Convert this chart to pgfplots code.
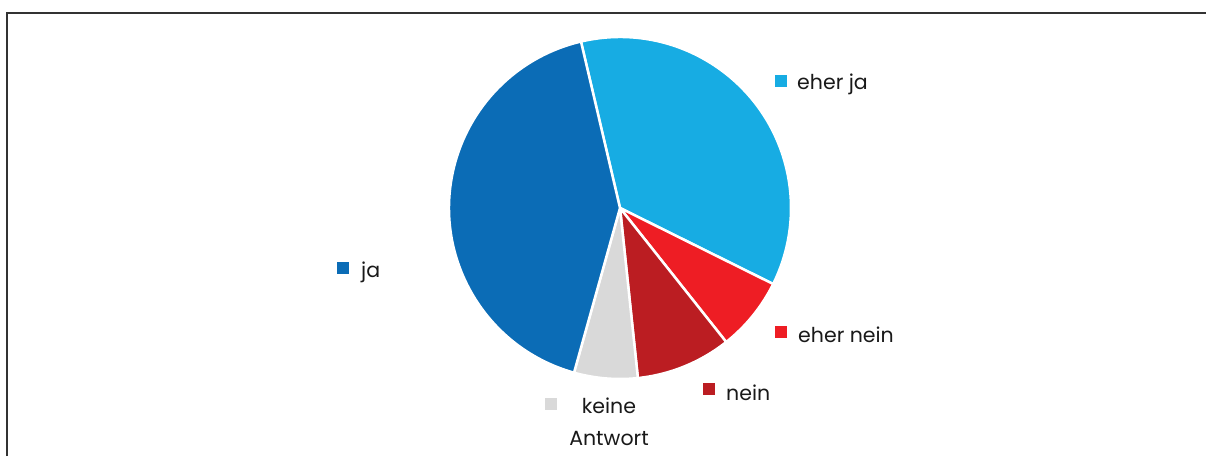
\documentclass[border=0pt]{standalone}
\usepackage{pgfplots}
\pgfplotsset{compat=1.18}
\usepackage{fontspec}
\setmainfont{Poppins}
\definecolor{cja}{HTML}{0B6CB6}
\definecolor{ceherja}{HTML}{17ACE3}
\definecolor{cehernein}{HTML}{EE1D24}
\definecolor{cnein}{HTML}{BB1D22}
\definecolor{ckeine}{HTML}{D9D9D9}
\definecolor{frame}{HTML}{333333}
\begin{document}
\begin{tikzpicture}
\begin{axis}[
  hide axis, scale only axis,
  width=1206pt, height=456pt,
  xmin=0, xmax=1206, ymin=0, ymax=456,
  clip=false, anchor=south west, at={(0pt,0pt)},
]
% frame (top and left edge)
\draw[frame, line width=1.6pt] (axis cs:7,0) -- (axis cs:7,443) -- (axis cs:1206,443);
% pie slices: value (percent) / colour, clockwise from 103.2 degrees
\foreach \v/\c [remember=\e as \s (initially 103.2), evaluate=\e using \s-\v*3.6] in
  {36/ceherja, 7/cehernein, 9/cnein, 6/ckeine, 42/cja} {
  \edef\temp{\noexpand\fill[\c, draw=white, line width=2.5pt, line join=round]
    (axis cs:620,248) -- ++(\s:171pt) arc[start angle=\s, end angle=\e, radius=171pt] -- cycle;}
  \temp
}
% legend-style label markers
\addplot[only marks, mark=square*, mark size=5.6pt, color=ceherja] coordinates {(781,375)};
\addplot[only marks, mark=square*, mark size=5.6pt, color=cja] coordinates {(343,188)};
\addplot[only marks, mark=square*, mark size=5.6pt, color=cehernein] coordinates {(781,124)};
\addplot[only marks, mark=square*, mark size=5.6pt, color=cnein] coordinates {(709,67)};
\addplot[only marks, mark=square*, mark size=5.6pt, color=ckeine] coordinates {(551,52)};
% labels
\tikzset{lbl/.style={anchor=base west, inner sep=0pt, font=\fontsize{20.5}{25}\selectfont, text=black!90}}
\node[lbl] at (axis cs:797,366) {eher ja};
\node[lbl] at (axis cs:361,179) {ja};
\node[lbl] at (axis cs:798,114) {eher nein};
\node[lbl] at (axis cs:726,56) {nein};
\node[lbl, anchor=base] at (axis cs:609,43) {keine};
\node[lbl, anchor=base] at (axis cs:609,11) {Antwort};
\end{axis}
\pgfresetboundingbox
\path[use as bounding box] (0pt,0pt) rectangle (1206pt,456pt);
\end{tikzpicture}
\end{document}
